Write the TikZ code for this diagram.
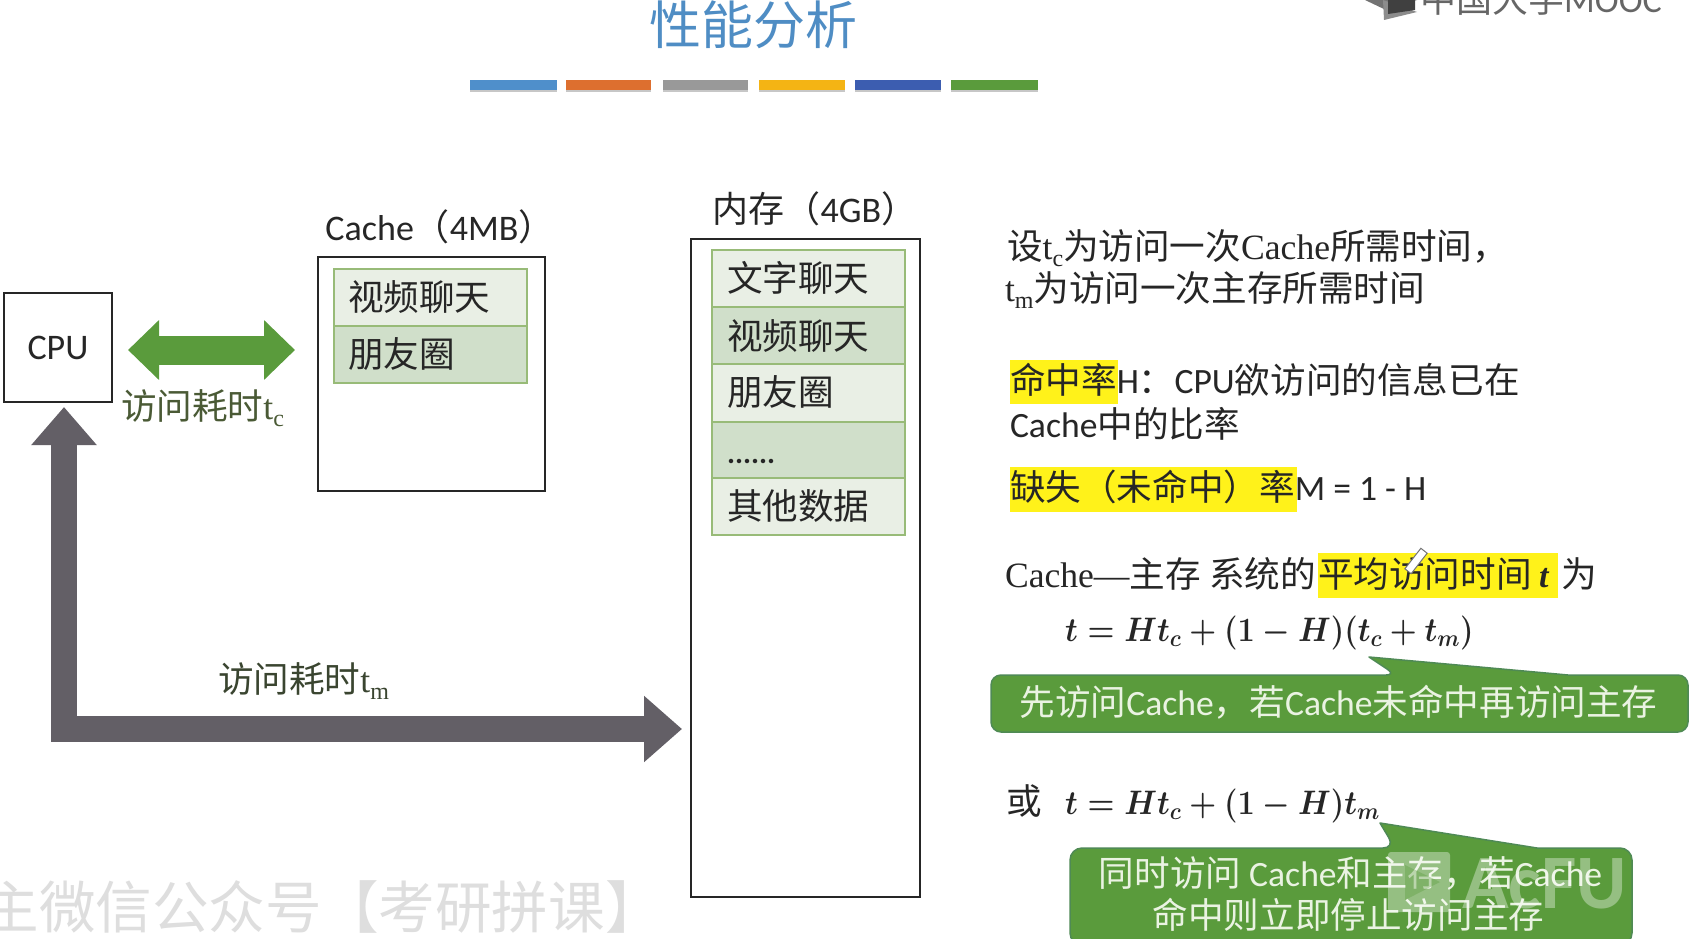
\documentclass[tikz,border=0pt]{standalone}
\usepackage{fix-cm}
\usepackage{amsmath}
\usepackage{fontspec}
\setmainfont{Carlito}
\newfontfamily\zh{Noto Sans CJK SC}
\newfontfamily\la{Carlito}
\newfontfamily\se{Liberation Serif}
\usetikzlibrary{arrows.meta}
\newcommand{\fs}[1]{\fontsize{#1}{#1}\selectfont}
\newcommand{\subs}[1]{\raisebox{-7pt}{\fs{24}#1}}
\definecolor{ink}{HTML}{262626}
\definecolor{green1}{HTML}{5A9B3C}
\definecolor{greenedge}{HTML}{4F8A55}
\definecolor{labelgreen}{HTML}{4A5A35}
\definecolor{labeldark}{HTML}{3A4530}
\definecolor{arrowgray}{HTML}{635F66}
\definecolor{cellpale}{HTML}{E9EFE5}
\definecolor{celldark}{HTML}{D0DFCA}
\definecolor{celledge}{HTML}{98BB78}
\definecolor{hl}{HTML}{FFF21A}
\definecolor{softwhite}{HTML}{EAF3E2}
\definecolor{titleblue}{HTML}{4F8DC4}
\tikzset{
  txt/.style={inner sep=0pt,outer sep=0pt,text=ink,font=\zh\fs{35.6}},
  lin/.style={txt,anchor=base west},
  outerbox/.style={draw=ink,line width=2pt,fill=white},
  cellp/.style={draw=celledge,line width=2pt,fill=cellpale},
  celld/.style={draw=celledge,line width=2pt,fill=celldark},
  callout/.style={fill=green1,draw=greenedge,line width=1.5pt,line join=round},
  calltext/.style={inner sep=0pt,text=softwhite,font=\zh\fs{35.6}},
  eqn/.style={inner sep=0pt,outer sep=0pt,text=ink,anchor=base west},
}
\begin{document}
\begin{tikzpicture}[x=1pt,y=-1pt]
\useasboundingbox (0,0) rectangle (1689,939);
\fill[white] (0,0) rectangle (1689,939);
\clip (0,0) rectangle (1689,939);

% title
\node[inner sep=0pt,text=titleblue] (title) at (753.5,25) {\zh\fs{52}性能分析};

% logo
\fill[black!55] (1365,0) -- (1386,10) -- (1417,0) -- cycle;
\fill[black!45] (1383,0) -- (1417,12) -- (1384,20) -- cycle;
\fill[black!75] (1388,0) -- (1415,0) -- (1415,10) -- (1388,14) -- cycle;
\node[inner sep=0pt,anchor=base west,text=black!60] (logo) at (1420,13) {\zh\fs{36}中国大学\la MOOC};

% colour bars
\foreach \a/\b/\c in {470/557/4F8FCB,566/651/DD6F2F,663/748/999999,759/845/F4B414,855/941/3C5DB0,951/1038/5A9B3C}{
  \fill[black!22] (\a,90) rectangle (\b,92.5);
  \definecolor{barc}{HTML}{\c}
  \fill[barc] (\a,80) rectangle (\b,90);
}

% CPU
\node[outerbox,minimum width=108pt,minimum height=109pt,inner sep=0pt,font=\la\fs{36},text=ink] (cpu) at (58,347.5) {CPU};

% Cache
\node[txt,font=\la\fs{36}] (cachelabel) at (440,227) {Cache{\zh（}4MB{\zh）}};
\node[outerbox,minimum width=227pt,minimum height=234pt,inner sep=0pt] (cache) at (431,374) {};
\node[cellp,minimum width=193pt,minimum height=57pt,inner sep=0pt] (c1) at (430.5,297.5) {};
\node[celld,minimum width=193pt,minimum height=57pt,inner sep=0pt] (c2) at (430.5,354.5) {};
\node[txt,anchor=west] (c1t) at (348,297) {视频聊天};
\node[txt,anchor=west] (c2t) at (348,354) {朋友圈};

% Memory
\node[txt,font=\la\fs{36}] (memlabel) at (815,209) {{\zh 内存（}4GB{\zh）}};
\node[outerbox,minimum width=229pt,minimum height=658pt,inner sep=0pt] (mem) at (805.5,568) {};
\node[cellp,minimum width=193pt,minimum height=57pt,inner sep=0pt] (m1) at (808.5,278.5) {};
\node[celld,minimum width=193pt,minimum height=57pt,inner sep=0pt] (m2) at (808.5,335.5) {};
\node[cellp,minimum width=193pt,minimum height=58pt,inner sep=0pt] (m3) at (808.5,393) {};
\node[celld,minimum width=193pt,minimum height=56pt,inner sep=0pt] (m4) at (808.5,450) {};
\node[cellp,minimum width=193pt,minimum height=57pt,inner sep=0pt] (m5) at (808.5,506.5) {};
\node[txt,anchor=west] (m1t) at (727,278) {文字聊天};
\node[txt,anchor=west] (m2t) at (727,336) {视频聊天};
\node[txt,anchor=west] (m3t) at (727,392) {朋友圈};
\node[txt,anchor=base west,font=\la\bfseries\fs{30}] (m4t) at (727,463) {......};
\node[txt,anchor=west] (m5t) at (727,506) {其他数据};

% arrows
\coordinate (da) at (128,350);
\coordinate (db) at (295,350);
\draw[green1,line width=29pt,{Triangle[length=31pt,width=58pt]}-{Triangle[length=31pt,width=58pt]}] (da) -- (db);
\node[lin,text=labelgreen] (tc) at (121,419) {访问耗时\se t\subs{c}};

\coordinate (ga) at (64,407);
\coordinate (gb) at (682,729);
\draw[arrowgray,line width=26pt,line join=miter,{Triangle[length=38pt,width=63pt]}-{Triangle[length=38pt,width=64pt]}] (ga) |- (gb);
\node[lin,text=labeldark] (tm) at (218,692) {访问耗时\se t\subs{m}};

% watermark
\node[inner sep=0pt,anchor=east,text=black!13] (wm) at (662,907) {\zh\fs{56.6}主微信公众号【考研拼课】};

% right text
\node[lin] (l1) at (1007,259) {设\se t\subs{c}\zh 为访问一次\se Cache\zh 所需时间，};
\node[lin] (l2) at (1005,301) {\se t\subs{m}\zh 为访问一次主存所需时间};

\fill[hl] (1010,360) rectangle (1117.5,404);
\node[lin] (l3) at (1010,393) {命中率\la H\zh：\la CPU\zh 欲访问的信息已在};
\node[lin] (l4) at (1010,437) {\la Cache\zh 中的比率};

\fill[hl] (1010,467) rectangle (1297,512);
\node[lin] (l5) at (1010,500) {缺失（未命中）率\la M = 1 - H};

\fill[hl] (1318,553) rectangle (1558,598);
\node[lin] (l6) at (1005,587) {\se Cache—\zh 主存};
\node[lin] (l6b) at (1209,587) {系统的};
\node[lin] (l6c) at (1318,587) {平均访问时间};
\node[lin,font=\se\bfseries\itshape\fs{34}] (l6d) at (1539,587) {t};
\node[lin] (l6e) at (1561,587) {为};

% pointer
\draw[black!55,fill=white,line width=1pt,rotate around={52:(1416,561)}] (1403,557) rectangle (1429,565);

% equations
\node[eqn] (e1) at (1065,641) {\scalebox{.905}[1]{\fs{34}{\boldmath$t=Ht_{c}+(1-H)(t_{c}+t_{m})$}}};
\node[lin] (or) at (1006,814) {或};
\node[eqn] (e2) at (1065,814) {\scalebox{.905}[1]{\fs{34}{\boldmath$t=Ht_{c}+(1-H)t_{m}$}}};

% callouts
\path[callout] (1369,657) -- (1568,675) [rounded corners=10pt] -- (1688,675) -- (1688,732) -- (991,732) -- (991,675) -- (1396,675) [sharp corners] -- cycle;
\node[calltext] (k1) at (1338.5,702) {先访问\la Cache\zh，若\la Cache\zh 未命中再访问主存};

\path[callout] (1380,823) -- (1537,848) [rounded corners=12pt] -- (1632,848) -- (1632,945) -- (1070,945) -- (1070,848) -- (1395,848) [sharp corners] -- cycle;
\node[calltext] (k2) at (1350.5,873) {同时访问 \la Cache\zh 和主存，若\la Cache};
\node[calltext] (k3) at (1348.5,915) {命中则立即停止访问主存};

% site mark
\begin{scope}[opacity=.36]
\fill[white,rounded corners=3pt] (1388,852) -- (1450,852) -- (1450,912) -- (1388,912) -- cycle;
\fill[green1] (1405,865) -- (1405,900) -- (1440,882) -- cycle;
\node[inner sep=0pt,anchor=base west,text=white] (acfun) at (1462,908) {\la\bfseries\fs{77}AcFU};
\end{scope}
\end{tikzpicture}
\end{document}
